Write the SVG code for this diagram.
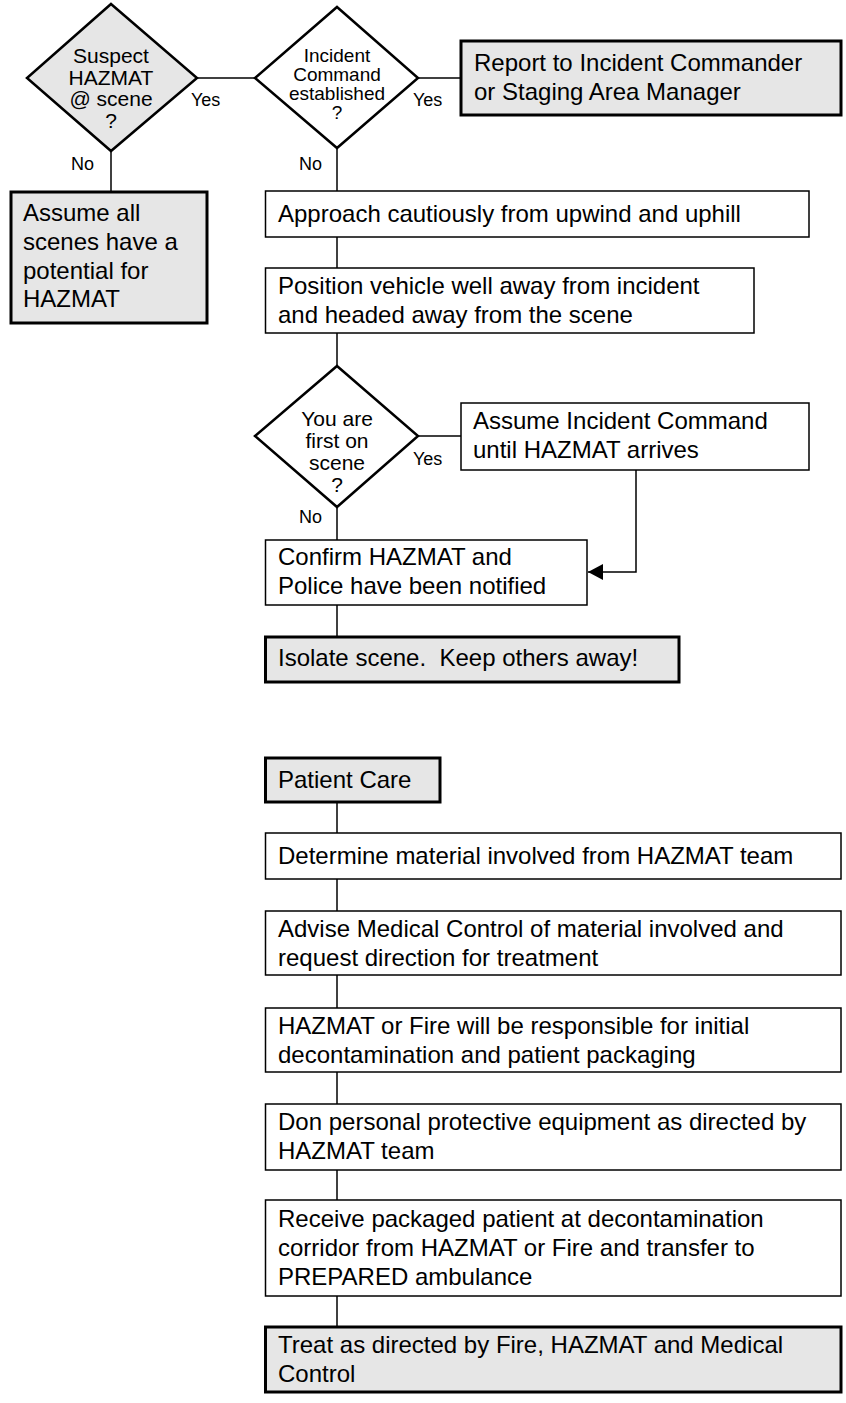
<svg xmlns="http://www.w3.org/2000/svg" width="846" height="1403" viewBox="0 0 846 1403">
<defs>
<style>
text{font-family:"Liberation Sans",Arial,sans-serif;fill:#000}
.t{font-size:24px}
.d1{font-size:21px;text-anchor:middle}
.d2{font-size:19px;text-anchor:middle}
.lbl{font-size:18px}
.box{fill:#fff;stroke:#000;stroke-width:1.5}
.gbox{fill:#e6e6e6;stroke:#000;stroke-width:3}
.dia{fill:#fff;stroke:#000;stroke-width:2.5}
.gdia{fill:#e6e6e6;stroke:#000;stroke-width:2.5}
.c{fill:none;stroke:#000;stroke-width:1.5}
</style>
<marker id="arr" markerUnits="userSpaceOnUse" markerWidth="16" markerHeight="18" refX="15" refY="8" orient="auto">
<path d="M0,0 L15,8 L0,16 z" fill="#000"/>
</marker>
</defs>
<rect width="846" height="1403" fill="#fff"/>

<g id="connectors">
<path class="c" d="M197,78 H255"/>
<path class="c" d="M418,78 H461"/>
<path class="c" d="M111,151 V192"/>
<path class="c" d="M337,148 V191"/>
<path class="c" d="M337,237 V268"/>
<path class="c" d="M337,333 V366"/>
<path class="c" d="M418,436 H461"/>
<path class="c" d="M337,507 V540"/>
<path class="c" d="M636,470 V572 H588" marker-end="url(#arr)"/>
<path class="c" d="M337,605 V637"/>
<path class="c" d="M337,802 V833"/>
<path class="c" d="M337,879 V911"/>
<path class="c" d="M337,975 V1008"/>
<path class="c" d="M337,1072 V1104"/>
<path class="c" d="M337,1170 V1200"/>
<path class="c" d="M337,1296 V1327"/>
<text class="lbl" x="191" y="106">Yes</text>
<text class="lbl" x="71" y="170">No</text>
<text class="lbl" x="413" y="106">Yes</text>
<text class="lbl" x="299" y="170">No</text>
<text class="lbl" x="413" y="465">Yes</text>
<text class="lbl" x="299" y="523">No</text>
</g>

<g id="suspect">
<path class="gdia" d="M111,4 L197,78 L111,151 L27,78 Z"/>
<text class="d1" x="111" y="63">Suspect</text>
<text class="d1" x="111" y="84.5">HAZMAT</text>
<text class="d1" x="111" y="106">@ scene</text>
<text class="d1" x="111" y="127.5">?</text>
</g>

<g id="ic-established">
<path class="dia" d="M337,7 L418,78 L337,148 L255,78 Z"/>
<text class="d2" x="337" y="62">Incident</text>
<text class="d2" x="337" y="81">Command</text>
<text class="d2" x="337" y="100">established</text>
<text class="d2" x="337" y="119">?</text>
</g>

<g id="report">
<rect class="gbox" x="461" y="41" width="380" height="74"/>
<text class="t" x="474" y="71">Report to Incident Commander</text>
<text class="t" x="474" y="100">or Staging Area Manager</text>
</g>

<g id="assume-all">
<rect class="gbox" x="11" y="192" width="196" height="131"/>
<text class="t" x="23" y="221">Assume all</text>
<text class="t" x="23" y="250">scenes have a</text>
<text class="t" x="23" y="279">potential for</text>
<text class="t" x="23" y="307">HAZMAT</text>
</g>

<g id="approach">
<rect class="box" x="265.5" y="191" width="543.5" height="46"/>
<text class="t" x="278" y="222">Approach cautiously from upwind and uphill</text>
</g>

<g id="position">
<rect class="box" x="265.5" y="268" width="488.5" height="65"/>
<text class="t" x="278" y="294">Position vehicle well away from incident</text>
<text class="t" x="278" y="323">and headed away from the scene</text>
</g>

<g id="first-on-scene">
<path class="dia" d="M337,366 L418,436 L337,507 L255,436 Z"/>
<text class="d1" x="337" y="426">You are</text>
<text class="d1" x="337" y="448">first on</text>
<text class="d1" x="337" y="470">scene</text>
<text class="d1" x="337" y="492">?</text>
</g>

<g id="assume-ic">
<rect class="box" x="461" y="403" width="348" height="67"/>
<text class="t" x="473" y="429">Assume Incident Command</text>
<text class="t" x="473" y="458">until HAZMAT arrives</text>
</g>

<g id="confirm">
<rect class="box" x="265.5" y="540" width="321.5" height="65"/>
<text class="t" x="278" y="565">Confirm HAZMAT and</text>
<text class="t" x="278" y="594">Police have been notified</text>
</g>

<g id="isolate">
<rect class="gbox" x="265.5" y="637" width="413.5" height="45"/>
<text class="t" x="278" y="666" xml:space="preserve">Isolate scene.  Keep others away!</text>
</g>

<g id="patient-care">
<rect class="gbox" x="265.5" y="758" width="174.5" height="44"/>
<text class="t" x="278" y="788">Patient Care</text>
</g>

<g id="determine">
<rect class="box" x="265.5" y="833" width="575.5" height="46"/>
<text class="t" x="278" y="864">Determine material involved from HAZMAT team</text>
</g>

<g id="advise">
<rect class="box" x="265.5" y="911" width="575.5" height="64"/>
<text class="t" x="278" y="937">Advise Medical Control of material involved and</text>
<text class="t" x="278" y="966">request direction for treatment</text>
</g>

<g id="decon">
<rect class="box" x="265.5" y="1008" width="575.5" height="64"/>
<text class="t" x="278" y="1034">HAZMAT or Fire will be responsible for initial</text>
<text class="t" x="278" y="1063">decontamination and patient packaging</text>
</g>

<g id="ppe">
<rect class="box" x="265.5" y="1104" width="575.5" height="66"/>
<text class="t" x="278" y="1130">Don personal protective equipment as directed by</text>
<text class="t" x="278" y="1159">HAZMAT team</text>
</g>

<g id="receive">
<rect class="box" x="265.5" y="1200" width="575.5" height="96"/>
<text class="t" x="278" y="1227">Receive packaged patient at decontamination</text>
<text class="t" x="278" y="1256">corridor from HAZMAT or Fire and transfer to</text>
<text class="t" x="278" y="1285">PREPARED ambulance</text>
</g>

<g id="treat">
<rect class="gbox" x="265.5" y="1327" width="575.5" height="65"/>
<text class="t" x="278" y="1353">Treat as directed by Fire, HAZMAT and Medical</text>
<text class="t" x="278" y="1382">Control</text>
</g>
</svg>
